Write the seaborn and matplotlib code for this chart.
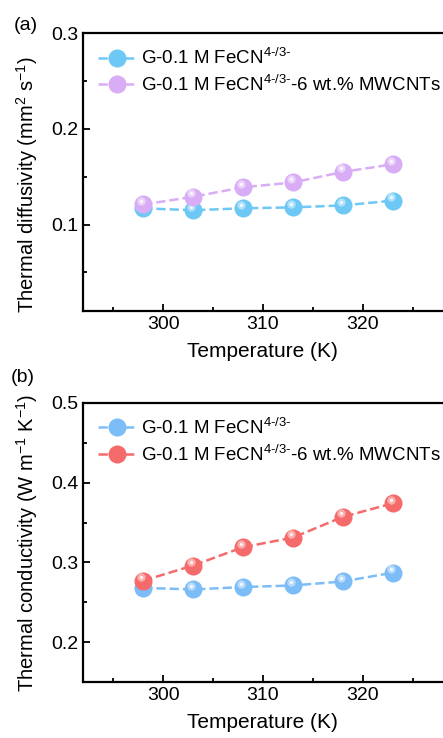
import numpy as np
import pandas as pd
import matplotlib
matplotlib.use("Agg")
import matplotlib.pyplot as plt
import matplotlib.transforms as mtransforms
from matplotlib.ticker import MultipleLocator
import seaborn as sns

# данные
temperature = [298, 303, 308, 313, 318, 323]
diff_base = [0.117, 0.115, 0.117, 0.118, 0.120, 0.125]
diff_cnt = [0.121, 0.129, 0.139, 0.144, 0.155, 0.163]
cond_base = [0.268, 0.266, 0.269, 0.271, 0.276, 0.287]
cond_cnt = [0.277, 0.296, 0.319, 0.331, 0.357, 0.374]

label_base = r"G-0.1 M FeCN$^{\text{4-/3-}}$"
label_cnt = r"G-0.1 M FeCN$^{\text{4-/3-}}$-6 wt.% MWCNTs"

sns.set_style("ticks")
plt.rcParams["font.family"] = ["Liberation Sans", "DejaVu Sans"]
plt.rcParams["mathtext.default"] = "regular"
plt.rcParams["mathtext.fontset"] = "custom"
plt.rcParams["mathtext.rm"] = "Liberation Sans"
plt.rcParams["mathtext.it"] = "Liberation Sans"
plt.rcParams["xtick.direction"] = "in"
plt.rcParams["ytick.direction"] = "in"
for k in ["text.color", "axes.labelcolor", "xtick.color", "ytick.color", "axes.edgecolor"]:
    plt.rcParams[k] = "black"

fig = plt.figure(figsize=(4.43, 7.38), dpi=100)
ax_a = fig.add_axes([0.188, 0.579, 0.811, 0.376])
ax_b = fig.add_axes([0.188, 0.076, 0.811, 0.378])


def draw(ax, y1, y2, c1, c2):
    df = pd.DataFrame({"T": temperature, "v1": y1, "v2": y2})
    for col, color, lab in [("v1", c1, label_base), ("v2", c2, label_cnt)]:
        sns.lineplot(data=df, x="T", y=col, ax=ax, color=color, linestyle="--",
                     linewidth=1.8, marker="o", markersize=13,
                     markeredgewidth=0, label=lab)
        # блик на шариках
        off = mtransforms.offset_copy(ax.transData, fig=fig, x=-1.5, y=2.5, units="points")
        ax.plot(df["T"], df[col], "o", color="white", alpha=0.45, markersize=6,
                markeredgewidth=0, transform=off)
        ax.plot(df["T"], df[col], "o", color="white", alpha=0.8, markersize=2.5,
                markeredgewidth=0, transform=off)
    ax.set_xlim(292, 328)
    ax.xaxis.set_major_locator(MultipleLocator(10))
    ax.xaxis.set_minor_locator(MultipleLocator(5))
    ax.set_xlabel("Temperature (K)", fontsize=15, labelpad=7)
    ax.tick_params(axis="both", which="major", labelsize=14, length=5, width=1.3)
    ax.tick_params(axis="both", which="minor", length=3, width=1.3)
    for s in ["left", "bottom", "top"]:
        ax.spines[s].set_linewidth(1.6)
    ax.spines["right"].set_linewidth(0.8)
    ax.spines["right"].set_color("#999999")
    ax.legend(loc="upper left", frameon=False, fontsize=13.5,
              handlelength=2.0, borderaxespad=0.5, labelspacing=0.35,
              handletextpad=0.3, borderpad=0.3)


draw(ax_a, diff_base, diff_cnt, "#6ec8f5", "#d9adf5")
ax_a.set_ylim(0.01, 0.3)
ax_a.yaxis.set_minor_locator(MultipleLocator(0.05))
ax_a.set_yticks([0.1, 0.2, 0.3])
ax_a.set_ylabel(r"Thermal diffusivity (mm$^2$ s$^{-1}$)", fontsize=14.5)
ax_a.yaxis.set_label_coords(-0.12, 0.455)

draw(ax_b, cond_base, cond_cnt, "#7dbdf7", "#f56a6a")
ax_b.set_ylim(0.15, 0.5)
ax_b.yaxis.set_minor_locator(MultipleLocator(0.05))
ax_b.set_yticks([0.2, 0.3, 0.4, 0.5])
ax_b.set_ylabel(r"Thermal conductivity (W m$^{-1}$ K$^{-1}$)", fontsize=14.5)
ax_b.yaxis.set_label_coords(-0.12, 0.5)

fig.text(0.03, 0.966, "(a)", fontsize=14, va="center")
fig.text(0.025, 0.488, "(b)", fontsize=14, va="center")

fig.savefig("out.png", dpi=100)
